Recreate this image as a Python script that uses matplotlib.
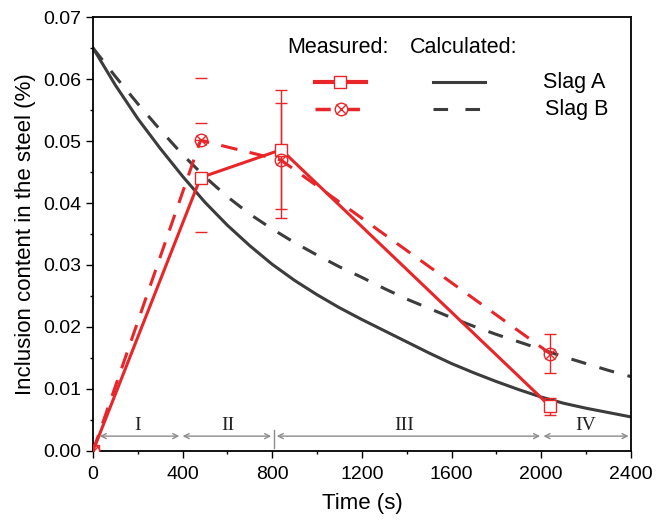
import matplotlib

matplotlib.use("Agg")
import matplotlib.pyplot as plt

plt.rcParams["font.family"] = ["Liberation Sans", "DejaVu Sans"]
plt.rcParams["lines.scale_dashes"] = False

RED = "#e8262a"
GRAY = "#3c3c3c"
ARROW = "#8c8c8c"

# measured points
t_meas = [0, 480, 840, 2040]
meas_a = [0.0, 0.0441, 0.0486, 0.0072]
meas_b = [0.0, 0.0501, 0.0469, 0.0157]
err_a = [0.0, 0.0088, 0.0096, 0.0014]
err_b_lo = [0.0, 0.0, 0.0093, 0.0032]
err_b_hi = [0.0, 0.0101, 0.0093, 0.0032]

# calculated curves, read every 100 s
t_calc = list(range(0, 2401, 100))
calc_a = [0.0650, 0.0590, 0.0536, 0.0488, 0.0443, 0.0401, 0.0364, 0.0331, 0.0301,
          0.0275, 0.0252, 0.0231, 0.0212, 0.0194, 0.0176, 0.0158, 0.0141, 0.0126,
          0.0112, 0.0099, 0.0087, 0.0077, 0.0069, 0.0062, 0.0055]
calc_b = [0.0650, 0.0604, 0.0560, 0.0518, 0.0478, 0.0442, 0.0410, 0.0382, 0.0358,
          0.0336, 0.0316, 0.0297, 0.0280, 0.0262, 0.0245, 0.0230, 0.0215, 0.0201,
          0.0188, 0.0176, 0.0164, 0.0152, 0.0141, 0.0130, 0.0120]

# stages
stage_labels = ["I", "II", "III", "IV"]
stage_start = [30, 400, 820, 2010]
stage_end = [385, 795, 1995, 2390]
stage_label_x = [200, 600, 1390, 2200]
stage_y = 0.0024

fig = plt.figure(figsize=(6.69, 5.2), dpi=100)
ax = fig.add_axes([0.139, 0.1327, 0.804, 0.8346])

ax.plot(t_calc, calc_a, color=GRAY, lw=2.2, zorder=2)
ax.plot(t_calc, calc_b, color=GRAY, lw=2.2, dashes=(11, 10), zorder=2)

ax.plot(t_meas, meas_a, color=RED, lw=2.2, marker="s", ms=9, mfc="white",
        mec=RED, mew=1.0, zorder=4)
ax.plot(t_meas, meas_b, color=RED, lw=2.2, dashes=(12, 9), marker="o", ms=9,
        mfc="none", mec=RED, mew=1.0, zorder=4)
ax.plot(t_meas, meas_b, ls="none", marker="x", ms=7, mec=RED, mew=1.0, zorder=5)

eb = ax.errorbar(t_meas[1:], meas_a[1:], yerr=err_a[1:], fmt="none", ecolor=RED,
                 elinewidth=1.0, capsize=4, capthick=1.0, zorder=3)
eb[2][0].set_linewidths([0, 1.0, 1.0])
eb = ax.errorbar(t_meas[1:], meas_b[1:], yerr=[err_b_lo[1:], err_b_hi[1:]], fmt="none",
                 ecolor=RED, elinewidth=1.0, capsize=4, capthick=1.0, zorder=3)
eb[2][0].set_linewidths([0, 1.0, 1.0])

# stage arrows
for s, e, lx, lab in zip(stage_start, stage_end, stage_label_x, stage_labels):
    ax.annotate("", xy=(e, stage_y), xytext=(s, stage_y),
                arrowprops=dict(arrowstyle="<->", color=ARROW, lw=1.0,
                                shrinkA=0, shrinkB=0, mutation_scale=9))
    ax.text(lx, stage_y + 0.0003, lab, ha="center", va="bottom", fontsize=14,
            family="Liberation Serif", color="#222222")
ax.plot([808, 808], [0.0005, 0.0034], color=ARROW, lw=1.0)

# legend drawn by hand
tr = ax.transAxes
ax.text(0.361, 0.929, "Measured:", transform=tr, fontsize=15.5, va="center")
ax.text(0.589, 0.929, "Calculated:", transform=tr, fontsize=15.5, va="center")
ax.plot([0.413, 0.508], [0.850, 0.850], transform=tr, color=RED, lw=3)
ax.plot([0.46], [0.850], transform=tr, marker="s", ms=8, mfc="white", mec=RED,
        mew=1.0, color=RED)
ax.plot([0.413, 0.501], [0.788, 0.788], transform=tr, color=RED, lw=2.5, dashes=(11, 10))
ax.plot([0.461], [0.788], transform=tr, marker="o", ms=9, mfc="white", mec=RED, mew=1.0)
ax.plot([0.461], [0.788], transform=tr, marker="x", ms=7, mec=RED, mew=1.0)
ax.plot([0.632, 0.729], [0.850, 0.850], transform=tr, color=GRAY, lw=2.2)
ax.plot([0.632, 0.724], [0.788, 0.788], transform=tr, color=GRAY, lw=2.2, dashes=(10.5, 12.5))
ax.text(0.836, 0.850, "Slag A", transform=tr, fontsize=15.5, va="center")
ax.text(0.840, 0.788, "Slag B", transform=tr, fontsize=15.5, va="center")

ax.set_xlim(0, 2400)
ax.set_ylim(0, 0.07)
ax.set_xticks(range(0, 2401, 400))
ax.set_xticks(range(0, 2401, 200), minor=True)
ax.set_yticks([i * 0.01 for i in range(8)])
ax.set_yticks([i * 0.005 for i in range(15)], minor=True)
ax.set_yticklabels([f"{i * 0.01:.2f}" for i in range(8)])
ax.tick_params(which="major", direction="out", length=5, width=1.0, labelsize=14)
ax.tick_params(axis="x", which="major", pad=6)
ax.tick_params(which="minor", direction="out", length=2.5, width=1.0)
for sp in ax.spines.values():
    sp.set_linewidth(1.3)
ax.set_xlabel("Time (s)", fontsize=16, labelpad=7)
ax.set_ylabel("Inclusion content in the steel (%)", fontsize=16, labelpad=5)

fig.savefig("out.png", dpi=100)
